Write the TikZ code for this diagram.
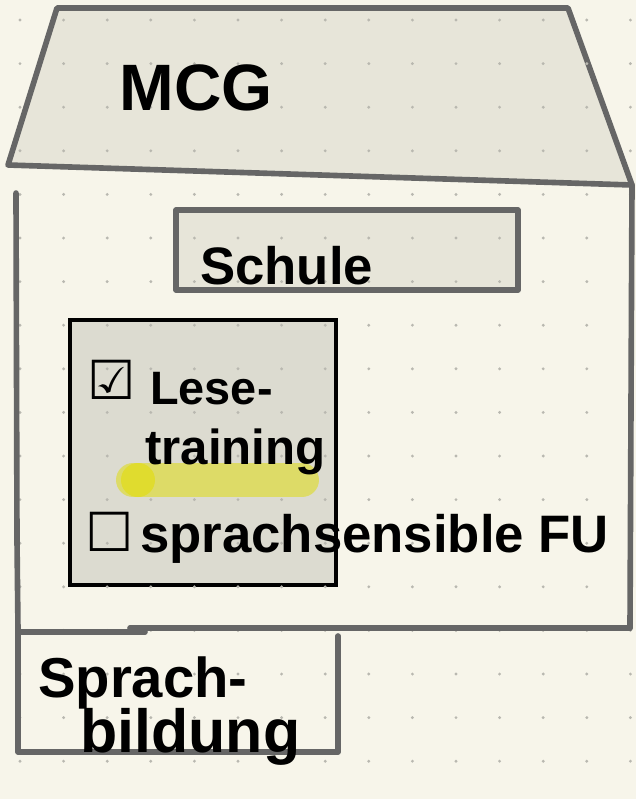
\documentclass[tikz,border=0pt]{standalone}
\usepackage{fontspec}
\setmainfont{Liberation Sans}
\newfontfamily\symfont{DejaVu Sans}
\usetikzlibrary{positioning}

\definecolor{paper}{HTML}{F7F5EA}
\definecolor{roofgray}{HTML}{E7E5D9}
\definecolor{boxgray}{HTML}{DCDBD0}
\definecolor{pen}{HTML}{666666}
\definecolor{dotgray}{HTML}{B9B8B0}
\definecolor{marker}{HTML}{DEDC5C}
\definecolor{markerdot}{HTML}{E0DC2E}

\tikzset{
  wall/.style={draw=pen, line width=4.8pt, line cap=round, line join=round},
  panel/.style={wall, fill=roofgray},
  ink/.style={text=black, inner sep=0pt},
}

\begin{document}
\begin{tikzpicture}[x=0.03cm, y=-0.03cm]
\useasboundingbox (0,0) rectangle (636,799);
\fill[paper] (0,0) rectangle (636,799);

% roof
\path[panel] (57,8) -- (568,8) -- (632,185) -- (8,165) -- cycle;
% schule sign and inner box
\path[panel] (176,210) rectangle (518,290);
\path[draw=black, line width=3.8pt, fill=boxgray] (70,320) rectangle (336,585);

% dot grid
\foreach \i in {0,...,14}
  \foreach \j in {0,...,17}
    \fill[dotgray] (20+43.6*\i, 20+43.6*\j) circle (1.6);

% house walls
\draw[wall] (16,193) -- (17,540) -- (18,630);
\draw[wall] (632,185) -- (630,628);
\draw[wall] (18,632) -- (145,632);
\draw[wall] (130,628) -- (630,628);
% sprachbildung room
\draw[wall] (18,630) -- (18,752) -- (338,752) -- (338,636);

% highlighter
\draw[marker, opacity=0.9, line width=29pt, line cap=round] (133,480) -- (302,480);
\fill[markerdot] (138,480) circle (17);

% texts
\node[ink, font=\bfseries\fontsize{56}{60}\selectfont] (mcg) at (196,88) {MCG};
\node[ink, anchor=base west, font=\bfseries\fontsize{45}{48}\selectfont] (schule) at (200,284) {Schule};
\node[ink, font=\symfont\bfseries\fontsize{46}{50}\selectfont] (check1) at (112,380) {☑};
\node[ink, anchor=base west, font=\bfseries\fontsize{40}{44}\selectfont] (lese) at (150,404) {Lese-};
\node[ink, anchor=base west, font=\bfseries\fontsize{42}{46}\selectfont] (training) at (145,464) {training};
\node[ink, font=\symfont\bfseries\fontsize{46}{50}\selectfont] (check2) at (110,532) {☐};
\node[ink, anchor=base west, font=\bfseries\fontsize{45}{49}\selectfont] (fu) at (140,552) {sprachsensible FU};
\node[ink, anchor=base west, font=\bfseries\fontsize{48}{52}\selectfont] (sprach) at (38,697) {Sprach-};
\node[ink, anchor=base west, font=\bfseries\fontsize{52}{56}\selectfont] (bildung) at (80,752) {bildung};
\end{tikzpicture}
\end{document}
